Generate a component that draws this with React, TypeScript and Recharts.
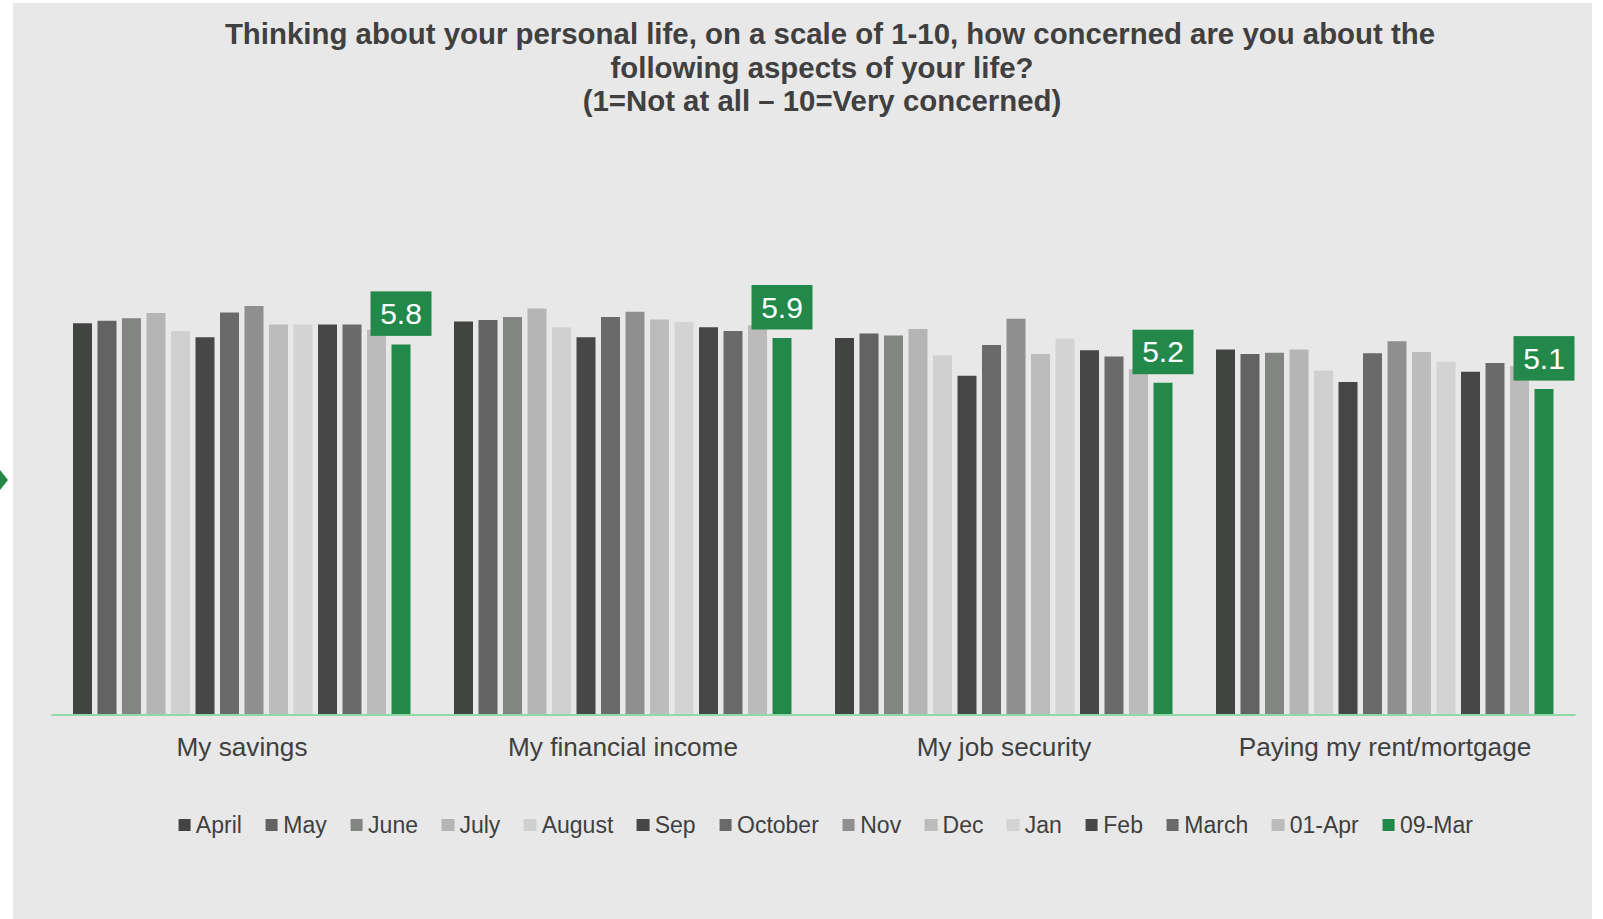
import { BarChart, Bar, XAxis, YAxis, LabelList } from 'recharts';

const categories = ['My savings', 'My financial income', 'My job security', 'Paying my rent/mortgage'];

const seriesNames = ['April', 'May', 'June', 'July', 'August', 'Sep', 'October', 'Nov', 'Dec', 'Jan', 'Feb', 'March', '01-Apr', '09-Mar'];
const seriesColors = ['#424441', '#636363', '#838582', '#b5b5b5', '#d0d0d0', '#474747', '#6a6a6a', '#8f8f8f', '#bcbcbc', '#d3d3d3', '#474747', '#6a6a6a', '#bbbbbb', '#22894a'];

// one array per wave, in category order
const april = [6.13, 6.16, 5.9, 5.72];
const may = [6.17, 6.18, 5.97, 5.65];
const june = [6.21, 6.23, 5.94, 5.67];
const july = [6.29, 6.36, 6.04, 5.72];
const august = [6.01, 6.07, 5.63, 5.39];
const sep = [5.91, 5.91, 5.31, 5.21];
const october = [6.3, 6.23, 5.79, 5.66];
const nov = [6.4, 6.31, 6.2, 5.85];
const dec = [6.11, 6.19, 5.65, 5.68];
const jan = [6.11, 6.15, 5.89, 5.53];
const feb = [6.11, 6.07, 5.71, 5.37];
const march = [6.11, 6.01, 5.61, 5.51];
const apr01 = [6.03, 6.1, 5.41, 5.46];
const mar09 = [5.8, 5.9, 5.2, 5.1];

const seriesValues = [april, may, june, july, august, sep, october, nov, dec, jan, feb, march, apr01, mar09];

const data = categories.map((name, i) => {
  const row: Record<string, string | number> = { name };
  seriesNames.forEach((s, k) => {
    row[s] = seriesValues[k][i];
  });
  return row;
});

const FONT = "'Liberation Sans', Arial, sans-serif";
const TEXT = '#404040';
const GREEN = '#22894a';

const CategoryTick = ({ x, y, payload }: any) => (
  <text x={x} y={y} dy={41} textAnchor="middle" fill={TEXT} fontSize={26.2} fontFamily={FONT}>
    {payload.value}
  </text>
);

// green box with the latest value above the last bar
const LatestLabel = (props: any) => {
  const { x, y, width, value } = props;
  const cx = x + width / 2;
  const boxW = 61;
  const boxH = 44.5;
  const top = y - 8.5 - boxH;
  return (
    <g>
      <rect x={cx - boxW / 2} y={top} width={boxW} height={boxH} fill={GREEN} />
      <text x={cx} y={top + boxH / 2 + 10.5} textAnchor="middle" fill="#ffffff" fontSize={30} fontFamily={FONT}>
        {Number(value).toFixed(1)}
      </text>
    </g>
  );
};

const titleLine = (text: string, center: number, top: number) => (
  <div
    style={{
      position: 'absolute',
      left: center - 750,
      top,
      width: 1500,
      textAlign: 'center',
      fontFamily: FONT,
      fontWeight: 'bold',
      fontSize: 29.4,
      lineHeight: '33.7px',
      color: TEXT,
      whiteSpace: 'nowrap',
    }}
  >
    {text}
  </div>
);

export default function App() {
  return (
    <div style={{ position: 'absolute', left: 0, top: 0, width: 1603, height: 919, background: '#ffffff', overflow: 'hidden' }}>
      <svg style={{ position: 'absolute', left: 0, top: 468 }} width={10} height={24}>
        <polygon points="0,2 8,12 0,22" fill={GREEN} />
      </svg>
      <div style={{ position: 'absolute', left: 13, top: 3, width: 1579, height: 916, background: '#e8e8e8' }}>
        <BarChart
          width={1579}
          height={916}
          data={data}
          margin={{ top: 73, right: 16.5, bottom: 0, left: 38.5 }}
          barCategoryGap={21.5}
          barGap={5.5}
        >
          <XAxis
            dataKey="name"
            height={204}
            interval={0}
            tickLine={false}
            tickSize={0}
            tickMargin={0}
            axisLine={{ stroke: '#8fd9a6', strokeWidth: 2 }}
            tick={<CategoryTick />}
          />
          <YAxis hide domain={[0, 10]} />
          {seriesNames.map((s, k) => (
            <Bar key={s} dataKey={s} fill={seriesColors[k]} isAnimationActive={false}>
              {k === seriesNames.length - 1 && <LabelList dataKey={s} content={<LatestLabel />} />}
            </Bar>
          ))}
        </BarChart>
      </div>
      {titleLine('Thinking about your personal life, on a scale of 1-10, how concerned are you about the', 830, 17)}
      {titleLine('following aspects of your life?', 822, 50.7)}
      {titleLine('(1=Not at all \u2013 10=Very concerned)', 822, 84.4)}
      <div
        style={{
          position: 'absolute',
          left: 825.5,
          top: 811,
          transform: 'translateX(-50%)',
          display: 'flex',
          alignItems: 'center',
          whiteSpace: 'nowrap',
          fontFamily: FONT,
          fontSize: 23,
          lineHeight: '28px',
          color: TEXT,
        }}
      >
        {seriesNames.map((s, k) => (
          <div key={s} style={{ display: 'flex', alignItems: 'center', marginLeft: k === 0 ? 0 : 23.6 }}>
            <span style={{ display: 'inline-block', width: 12.5, height: 12.5, background: seriesColors[k], marginRight: 5.3 }} />
            <span>{s}</span>
          </div>
        ))}
      </div>
    </div>
  );
}
